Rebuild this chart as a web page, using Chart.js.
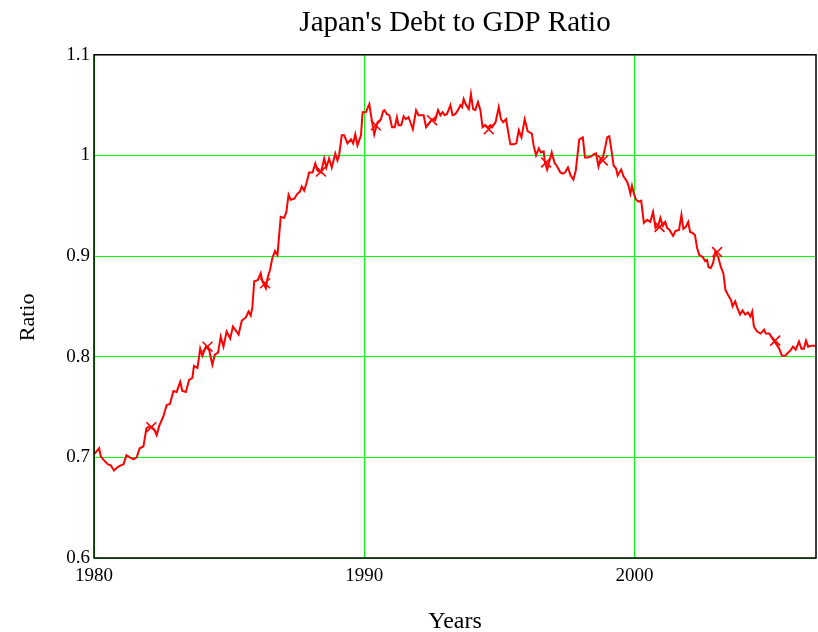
<!DOCTYPE html>
<html>
<head>
<meta charset="utf-8">
<script src="https://cdn.jsdelivr.net/npm/chart.js@4"></script>
<style>
  html, body { margin: 0; padding: 0; background: #fff; overflow: hidden; }
  #wrap { width: 818px; height: 632px; }
  canvas { display: block; }
</style>
</head>
<body>
<div id="wrap"><canvas id="debtChart" width="818" height="632"></canvas></div>
<script>
// Japan debt / GDP ratio
const years = [
    1980.00, 1980.19, 1980.25, 1980.37, 1980.52, 1980.62, 1980.74, 1980.86, 1980.99, 1981.09,
    1981.20, 1981.33, 1981.46, 1981.58, 1981.69, 1981.83, 1981.94, 1982.07, 1982.22, 1982.32,
    1982.41, 1982.57, 1982.69, 1982.81, 1982.94, 1983.06, 1983.19, 1983.27, 1983.40, 1983.52,
    1983.64, 1983.70, 1983.83, 1983.93, 1984.01, 1984.14, 1984.26, 1984.38, 1984.47, 1984.59,
    1984.69, 1984.79, 1984.91, 1985.04, 1985.14, 1985.25, 1985.35, 1985.47, 1985.62, 1985.72,
    1985.80, 1985.86, 1985.93, 1986.06, 1986.17, 1986.23, 1986.36, 1986.42, 1986.52, 1986.60,
    1986.70, 1986.79, 1986.91, 1987.04, 1987.12, 1987.20, 1987.28, 1987.41, 1987.53, 1987.62,
    1987.69, 1987.78, 1987.88, 1987.96, 1988.09, 1988.19, 1988.27, 1988.40, 1988.52, 1988.60,
    1988.70, 1988.80, 1988.93, 1989.01, 1989.07, 1989.17, 1989.26, 1989.38, 1989.51, 1989.59,
    1989.67, 1989.75, 1989.88, 1989.94, 1990.06, 1990.19, 1990.28, 1990.37, 1990.49, 1990.62,
    1990.70, 1990.75, 1990.84, 1990.93, 1991.03, 1991.13, 1991.21, 1991.27, 1991.37, 1991.46,
    1991.54, 1991.64, 1991.71, 1991.80, 1991.92, 1992.01, 1992.11, 1992.20, 1992.29, 1992.38,
    1992.51, 1992.63, 1992.73, 1992.82, 1992.90, 1992.98, 1993.06, 1993.19, 1993.27, 1993.37,
    1993.47, 1993.56, 1993.62, 1993.68, 1993.77, 1993.87, 1993.95, 1994.03, 1994.11, 1994.21,
    1994.30, 1994.38, 1994.48, 1994.58, 1994.67, 1994.73, 1994.86, 1994.98, 1995.06, 1995.14,
    1995.25, 1995.35, 1995.41, 1995.53, 1995.63, 1995.72, 1995.82, 1995.94, 1996.05, 1996.20,
    1996.27, 1996.36, 1996.46, 1996.54, 1996.64, 1996.69, 1996.77, 1996.83, 1996.94, 1997.04,
    1997.14, 1997.26, 1997.35, 1997.43, 1997.54, 1997.64, 1997.74, 1997.83, 1997.90, 1997.96,
    1998.09, 1998.17, 1998.27, 1998.40, 1998.49, 1998.58, 1998.67, 1998.75, 1998.83, 1998.91,
    1998.99, 1999.07, 1999.14, 1999.23, 1999.32, 1999.38, 1999.51, 1999.60, 1999.73, 1999.79,
    1999.85, 1999.91, 1999.98, 2000.06, 2000.15, 2000.25, 2000.35, 2000.47, 2000.59, 2000.69,
    2000.78, 2000.89, 2000.96, 2001.05, 2001.14, 2001.21, 2001.30, 2001.43, 2001.52, 2001.65,
    2001.74, 2001.81, 2001.90, 2001.99, 2002.06, 2002.15, 2002.24, 2002.32, 2002.40, 2002.53,
    2002.62, 2002.69, 2002.74, 2002.82, 2002.91, 2002.99, 2003.10, 2003.20, 2003.29, 2003.37,
    2003.47, 2003.58, 2003.63, 2003.73, 2003.80, 2003.91, 2004.00, 2004.10, 2004.20, 2004.29,
    2004.36, 2004.42, 2004.54, 2004.67, 2004.80, 2004.86, 2004.99, 2005.11, 2005.24, 2005.36,
    2005.46, 2005.59, 2005.68, 2005.77, 2005.87, 2005.97, 2006.09, 2006.18, 2006.27, 2006.35,
    2006.43, 2006.56, 2006.72
];
const ratios = [
    0.703, 0.709, 0.701, 0.697, 0.693, 0.692, 0.687, 0.690, 0.692, 0.693,
    0.702, 0.700, 0.698, 0.700, 0.709, 0.711, 0.729, 0.731, 0.728, 0.722,
    0.731, 0.741, 0.752, 0.753, 0.766, 0.765, 0.775, 0.766, 0.765, 0.777,
    0.779, 0.791, 0.789, 0.808, 0.801, 0.810, 0.807, 0.792, 0.802, 0.804,
    0.820, 0.810, 0.825, 0.818, 0.830, 0.826, 0.822, 0.836, 0.839, 0.845,
    0.841, 0.849, 0.875, 0.876, 0.883, 0.875, 0.868, 0.878, 0.887, 0.898,
    0.905, 0.901, 0.939, 0.938, 0.944, 0.961, 0.956, 0.957, 0.962, 0.964,
    0.969, 0.965, 0.974, 0.983, 0.983, 0.992, 0.985, 0.983, 0.997, 0.988,
    0.997, 0.988, 1.002, 0.995, 1.000, 1.020, 1.020, 1.012, 1.016, 1.012,
    1.021, 1.010, 1.020, 1.043, 1.043, 1.051, 1.035, 1.021, 1.033, 1.036,
    1.044, 1.045, 1.041, 1.040, 1.028, 1.028, 1.038, 1.030, 1.030, 1.039,
    1.036, 1.038, 1.033, 1.026, 1.045, 1.040, 1.040, 1.040, 1.028, 1.031,
    1.036, 1.035, 1.045, 1.040, 1.043, 1.040, 1.041, 1.050, 1.040, 1.041,
    1.045, 1.050, 1.048, 1.056, 1.050, 1.046, 1.061, 1.046, 1.045, 1.053,
    1.045, 1.028, 1.030, 1.028, 1.030, 1.028, 1.033, 1.048, 1.036, 1.033,
    1.036, 1.020, 1.011, 1.011, 1.012, 1.025, 1.018, 1.036, 1.024, 1.022,
    1.010, 1.000, 1.007, 1.003, 1.004, 0.993, 0.986, 0.992, 1.003, 0.993,
    0.989, 0.983, 0.982, 0.983, 0.988, 0.980, 0.976, 0.985, 1.002, 1.016,
    1.018, 0.998, 0.998, 0.999, 1.001, 1.002, 0.989, 0.997, 0.998, 1.007,
    1.018, 1.019, 1.007, 0.990, 0.987, 0.980, 0.986, 0.979, 0.974, 0.969,
    0.962, 0.970, 0.962, 0.956, 0.954, 0.955, 0.933, 0.936, 0.934, 0.944,
    0.928, 0.931, 0.938, 0.930, 0.934, 0.928, 0.926, 0.920, 0.925, 0.926,
    0.941, 0.927, 0.929, 0.934, 0.924, 0.923, 0.921, 0.908, 0.901, 0.899,
    0.895, 0.896, 0.889, 0.888, 0.893, 0.904, 0.899, 0.889, 0.883, 0.866,
    0.861, 0.856, 0.850, 0.855, 0.849, 0.842, 0.846, 0.842, 0.844, 0.840,
    0.845, 0.830, 0.825, 0.823, 0.827, 0.823, 0.823, 0.818, 0.813, 0.808,
    0.801, 0.801, 0.804, 0.806, 0.810, 0.807, 0.815, 0.808, 0.808, 0.816,
    0.810, 0.811, 0.811
];

// the "x" markers sitting on the curve
const markerYears = [1982.12, 1984.20, 1986.33, 1988.40, 1990.43, 1992.51, 1994.61, 1996.73, 1998.83, 2000.93, 2003.06, 2005.21];
const markerRatios = [0.730, 0.810, 0.873, 0.984, 1.030, 1.035, 1.026, 0.993, 0.995, 0.929, 0.904, 0.816];

const xTicks = [1980, 1990, 2000];
const yTicks = [0.6, 0.7, 0.8, 0.9, 1, 1.1];

const serif = "'Liberation Serif', 'Times New Roman', serif";

// black frame round the whole plot area
const framePlugin = {
    id: 'frame',
    afterDraw(chart) {
        const a = chart.chartArea;
        const ctx = chart.ctx;
        ctx.save();
        ctx.strokeStyle = '#000';
        ctx.lineWidth = 1.5;
        ctx.strokeRect(a.left, a.top, a.right - a.left, a.bottom - a.top);
        ctx.restore();
    }
};

const ctx = document.getElementById('debtChart').getContext('2d');
new Chart(ctx, {
    type: 'line',
    data: {
        datasets: [
            {
                label: 'Debt/GDP',
                data: years.map((y, i) => ({ x: y, y: ratios[i] })),
                borderColor: '#ff0000',
                borderWidth: 2,
                pointRadius: 0,
                tension: 0,
                fill: false
            },
            {
                label: 'markers',
                data: markerYears.map((y, i) => ({ x: y, y: markerRatios[i] })),
                showLine: false,
                pointStyle: 'crossRot',
                pointRadius: 7,
                borderColor: '#ff0000',
                borderWidth: 1.6
            }
        ]
    },
    options: {
        responsive: false,
        animation: false,
        layout: { autoPadding: false, padding: { left: 0, right: 2, top: 0, bottom: 0 } },
        plugins: {
            legend: { display: false },
            tooltip: { enabled: false },
            title: {
                display: true,
                text: "Japan's Debt to GDP Ratio",
                fullSize: false,
                color: '#000',
                font: { family: serif, size: 29, weight: 'normal' },
                padding: { top: 6, bottom: 14 }
            }
        },
        scales: {
            x: {
                type: 'linear',
                min: 1980,
                max: 2006.72,
                afterBuildTicks: axis => { axis.ticks = xTicks.map(v => ({ value: v })); },
                afterFit: axis => {
                    axis.height = 74;
                    axis.paddingRight = 0;
                    axis.paddingLeft = 0;
                },
                grid: { color: '#00ff00', lineWidth: 1, drawTicks: false },
                border: { display: false },
                ticks: {
                    color: '#000',
                    padding: 7,
                    maxRotation: 0,
                    font: { family: serif, size: 19 },
                    callback: v => String(v)
                },
                title: {
                    display: true,
                    text: 'Years',
                    color: '#000',
                    font: { family: serif, size: 24, lineHeight: 0.85 },
                    padding: { top: 0, bottom: 0 }
                }
            },
            y: {
                min: 0.6,
                max: 1.1,
                afterBuildTicks: axis => { axis.ticks = yTicks.map(v => ({ value: v })); },
                afterFit: axis => { axis.width = 94; },
                grid: { color: '#00ff00', lineWidth: 1, drawTicks: false },
                border: { display: false },
                ticks: {
                    color: '#000',
                    padding: 4,
                    font: { family: serif, size: 19 },
                    callback: v => String(Math.round(v * 10) / 10)
                },
                title: {
                    display: true,
                    text: 'Ratio    ',
                    color: '#000',
                    font: { family: serif, size: 22 },
                    padding: { top: 15, bottom: 0 }
                }
            }
        }
    },
    plugins: [framePlugin]
});
</script>
</body>
</html>
